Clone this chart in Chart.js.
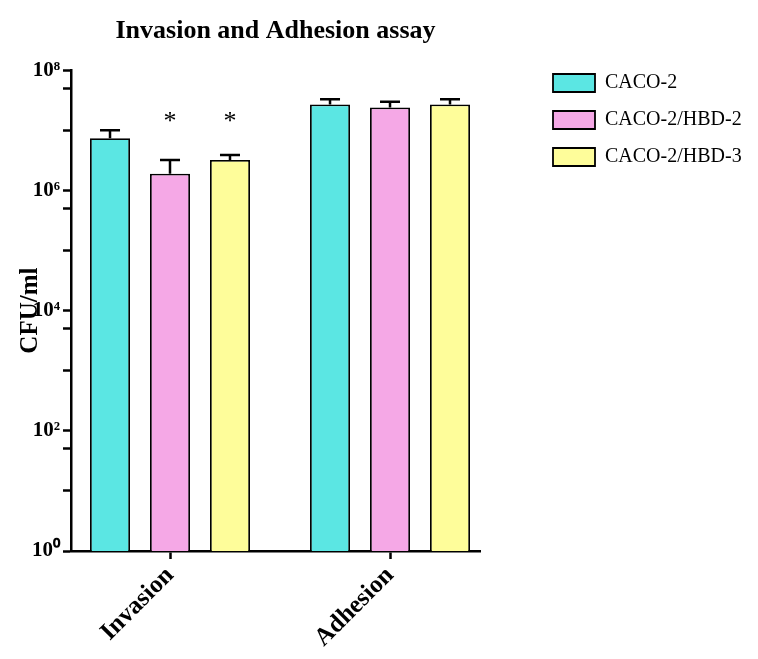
<!DOCTYPE html>
<html>
<head>
<meta charset="utf-8">
<script src="https://cdn.jsdelivr.net/npm/chart.js@4/dist/chart.umd.min.js"></script>
<style>
    html, body { margin: 0; padding: 0; background: #fff; }
    #wrap { width: 758px; height: 659px; }
</style>
</head>
<body>
<div id="wrap"><canvas id="bar-chart" width="758" height="659"></canvas></div>
<script>
// Data
const categories = ['Invasion', 'Adhesion'];
const catPositions = [1, 2];
const seriesNames = ['CACO-2', 'CACO-2/HBD-2', 'CACO-2/HBD-3'];
const caco2 = [7.4e6, 2.7e7];
const caco2Hbd2 = [1.9e6, 2.4e7];
const caco2Hbd3 = [3.2e6, 2.7e7];
const caco2Err = [1.0e7, 3.3e7];
const caco2Hbd2Err = [3.2e6, 3.0e7];
const caco2Hbd3Err = [3.9e6, 3.3e7];
const caco2Sig = [false, false];
const caco2Hbd2Sig = [true, false];
const caco2Hbd3Sig = [true, false];
const starLevel = 1.5e7;
const majorTicks = [1, 1e2, 1e4, 1e6, 1e8];
const tickLabels = ['10\u2070', '10\u00B2', '10\u2074', '10\u2076', '10\u2078'];
const minorTicks = [10, 50, 1e3, 5e3, 1e5, 5e5, 1e7, 5e7];

const serif = "'Liberation Serif', 'Times New Roman', serif";
const colors = ['#5be6e3', '#f5a8e6', '#fefd9a'];
const values = [caco2, caco2Hbd2, caco2Hbd3];
const errors = [caco2Err, caco2Hbd2Err, caco2Hbd3Err];
const sigs = [caco2Sig, caco2Hbd2Sig, caco2Hbd3Sig];

window.addEventListener('load', () => {
    const canvas = document.getElementById('bar-chart');

    // Error bars + significance stars
    const errorBars = {
        id: 'errorBars',
        afterDatasetsDraw(chart) {
            const ctx = chart.ctx;
            const yScale = chart.scales.y;
            ctx.save();
            ctx.strokeStyle = '#000';
            ctx.lineWidth = 2.5;
            chart.data.datasets.forEach((ds, d) => {
                const meta = chart.getDatasetMeta(d);
                meta.data.forEach((bar, i) => {
                    const top = yScale.getPixelForValue(errors[d][i]);
                    const half = bar.width / 4;
                    ctx.beginPath();
                    ctx.moveTo(bar.x, bar.y);
                    ctx.lineTo(bar.x, top);
                    ctx.moveTo(bar.x - half, top);
                    ctx.lineTo(bar.x + half, top);
                    ctx.stroke();
                    if (sigs[d][i]) {
                        ctx.fillStyle = '#000';
                        ctx.font = '26px ' + serif;
                        ctx.textAlign = 'center';
                        ctx.textBaseline = 'middle';
                        ctx.fillText('*', bar.x, yScale.getPixelForValue(starLevel) + 2);
                    }
                });
            });
            ctx.restore();
        }
    };

    // Push legend items away from the plot
    const legendPlace = {
        id: 'legendPlace',
        afterInit(chart) {
            const lg = chart.legend;
            const fit = lg.fit.bind(lg);
            lg.fit = function () { fit(); this.width = 278; };
        },
        afterLayout(chart) {
            const lg = chart.legend;
            const dx = 553 - (lg.left + lg.options.labels.padding);
            lg.left += dx; lg.right += dx;
            lg.top += 56; lg.bottom += 56;
        }
    };

    new Chart(canvas, {
        type: 'bar',
        data: {
            datasets: seriesNames.map((name, d) => ({
                label: name,
                data: catPositions.map((x, i) => ({ x: x, y: values[d][i] })),
                backgroundColor: colors[d],
                borderColor: '#000',
                borderWidth: 1.8,
                borderSkipped: 'bottom'
            }))
        },
        options: {
            responsive: false,
            animation: false,
            categoryPercentage: 0.818,
            barPercentage: 0.667,
            layout: { padding: 0 },
            plugins: {
                title: {
                    display: true,
                    text: 'Invasion and Adhesion assay',
                    fullSize: false,
                    color: '#000',
                    font: { family: serif, size: 26, weight: 'bold' },
                    padding: { top: 16, bottom: 23 }
                },
                legend: {
                    position: 'right',
                    align: 'start',
                    labels: {
                        color: '#000',
                        boxWidth: 42,
                        boxHeight: 18,
                        padding: 17,
                        font: { family: serif, size: 20 }
                    }
                },
                tooltip: { enabled: false }
            },
            scales: {
                x: {
                    type: 'linear',
                    offset: false,
                    min: 0.55,
                    max: 2.409,
                    afterBuildTicks: (scale) => {
                        scale.ticks = catPositions.map(v => ({ value: v }));
                    },
                    afterFit: (scale) => { scale.height = 108; },
                    grid: { offset: false, drawOnChartArea: false, tickLength: 8, tickColor: '#000', tickWidth: 2.5 },
                    border: { color: '#000', width: 2.5 },
                    ticks: {
                        color: '#000',
                        autoSkip: false,
                        minRotation: 45,
                        maxRotation: 45,
                        padding: 2,
                        font: { family: serif, size: 25, weight: 'bold' },
                        callback: (v) => categories[catPositions.indexOf(v)]
                    }
                },
                y: {
                    type: 'logarithmic',
                    min: 1,
                    max: 1e8,
                    afterBuildTicks: (scale) => {
                        scale.ticks = majorTicks.concat(minorTicks)
                            .sort((a, b) => a - b)
                            .map(v => ({ value: v }));
                    },
                    afterFit: (scale) => { scale.width = 71; },
                    grid: { drawOnChartArea: false, tickLength: 8, tickColor: '#000', tickWidth: 2.5 },
                    border: { color: '#000', width: 2.5 },
                    ticks: {
                        color: '#000',
                        autoSkip: false,
                        padding: 3,
                        font: { family: serif, size: 21, weight: 'bold' },
                        callback: (v) => {
                            const k = majorTicks.indexOf(v);
                            return k >= 0 ? tickLabels[k] : '';
                        }
                    },
                    title: {
                        display: true,
                        text: 'CFU/ml',
                        color: '#000',
                        font: { family: serif, size: 25, weight: 'bold' },
                        padding: { top: 16, bottom: 0 }
                    }
                }
            }
        },
        plugins: [errorBars, legendPlace]
    });
});
</script>
</body>
</html>
